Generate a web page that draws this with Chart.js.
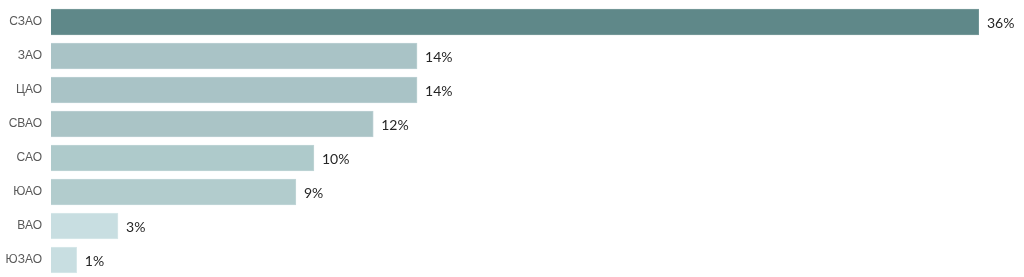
<!DOCTYPE html>
<html lang="ru">
<head>
    <meta charset="UTF-8">
    <title>Округа</title>
    <script src="https://cdn.jsdelivr.net/npm/chart.js"></script>
    <style>
        html, body { margin: 0; padding: 0; background: #fff; overflow: hidden; }
    </style>
</head>
<body>
    <canvas id="districtChart" width="1024" height="277"></canvas>

    <script>
        // данные
        const districts = ['СЗАО', 'ЗАО', 'ЦАО', 'СВАО', 'САО', 'ЮАО', 'ВАО', 'ЮЗАО'];
        const shares = [36, 14.2, 14.2, 12.5, 10.2, 9.5, 2.6, 1.0];
        const shareLabels = ['36%', '14%', '14%', '12%', '10%', '9%', '3%', '1%'];
        const barColors = ['#5f8889', '#a9c3c6', '#a9c3c6', '#aac4c6', '#aecacb', '#b2cccd', '#c8dee1', '#c8dee1'];
        const edgeColors = ['#7a9c9d', '#bcd1d3', '#bcd1d3', '#bcd1d3', '#bfd5d6', '#c2d7d8', '#d8e8ea', '#d8e8ea'];

        // подписи в конце столбцов
        const endLabels = {
            id: 'endLabels',
            afterDatasetsDraw(chart) {
                const ctx = chart.ctx;
                const meta = chart.getDatasetMeta(0);
                ctx.save();
                ctx.font = '14px Lato';
                ctx.fillStyle = '#262626';
                ctx.textBaseline = 'middle';
                ctx.textAlign = 'left';
                meta.data.forEach((bar, i) => {
                    ctx.fillText(shareLabels[i], bar.x + 8, bar.y + 1);
                });
                ctx.restore();
            }
        };

        new Chart(document.getElementById('districtChart'), {
            type: 'bar',
            data: {
                labels: districts,
                datasets: [{
                    data: shares,
                    backgroundColor: barColors,
                    borderColor: edgeColors,
                    borderWidth: 1,
                    barThickness: 26
                }]
            },
            options: {
                indexAxis: 'y',
                responsive: false,
                animation: false,
                layout: { padding: { top: 5, right: 45, bottom: 0, left: 0 } },
                plugins: {
                    legend: { display: false },
                    tooltip: { enabled: false }
                },
                scales: {
                    x: {
                        display: false,
                        min: 0,
                        max: 36
                    },
                    y: {
                        grid: { display: false, drawTicks: false },
                        border: { display: false },
                        afterFit(axis) {
                            axis.width = 51;
                            axis.paddingTop = 0;
                            axis.paddingBottom = 0;
                        },
                        ticks: {
                            padding: 9,
                            color: '#595959',
                            font: { family: 'Liberation Sans', size: 12 }
                        }
                    }
                }
            },
            plugins: [endLabels]
        });
    </script>
</body>
</html>
